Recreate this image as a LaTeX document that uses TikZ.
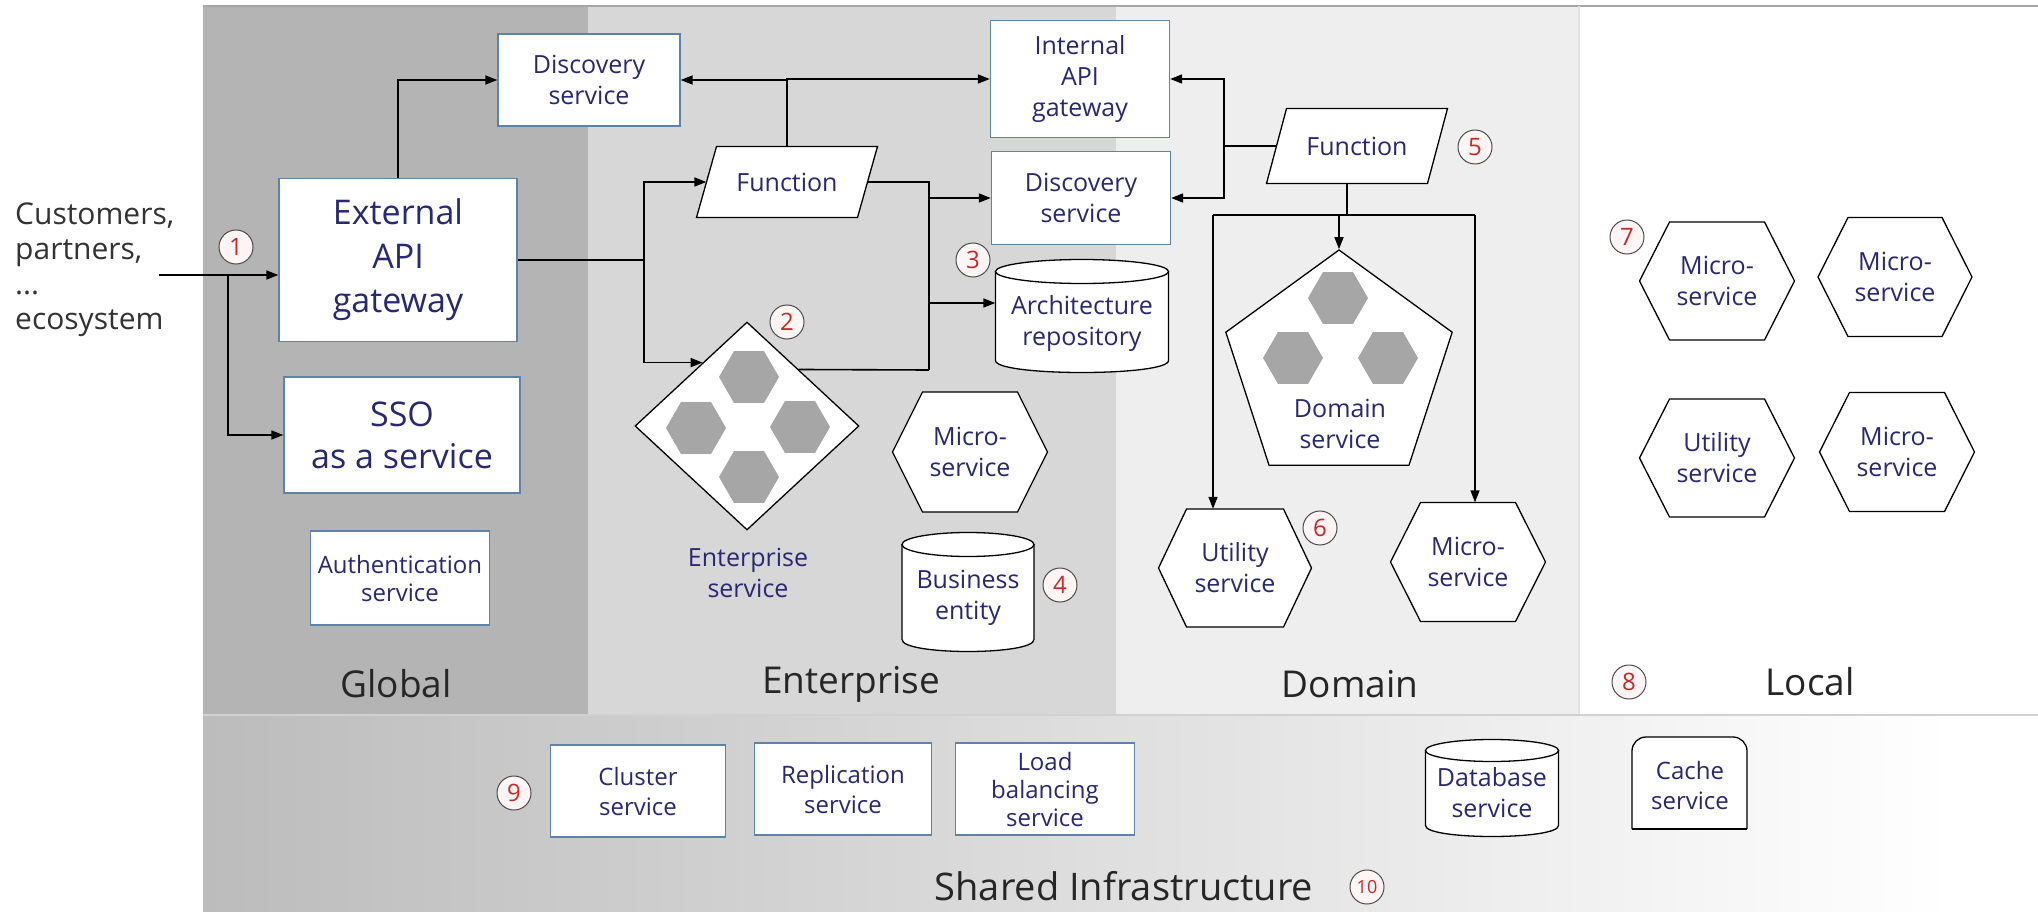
\documentclass[tikz,border=0pt]{standalone}
\usepackage{fontspec}
\setmainfont{Open Sans}
\usetikzlibrary{shapes.geometric,arrows.meta,calc}
\definecolor{bluetxt}{RGB}{40,40,115}
\definecolor{rectblue}{RGB}{95,130,170}
\definecolor{globalbg}{RGB}{180,180,180}
\definecolor{entbg}{RGB}{215,215,215}
\definecolor{dombg}{RGB}{238,238,238}
\definecolor{bandleft}{RGB}{188,188,188}
\definecolor{hexgray}{RGB}{166,166,166}
\definecolor{numred}{RGB}{200,40,40}
\tikzset{
 conn/.style={line width=1.6pt, black},
 arr/.style={conn, -{Triangle[length=12pt,width=9pt]}},
 bluetext/.style={font=\fontsize{25}{31}\selectfont, text=bluetxt, align=center, inner sep=0pt},
 rectbox/.style={bluetext, draw=rectblue, fill=white, line width=1.3pt},
 bigbox/.style={rectbox, font=\fontsize{34}{44}\selectfont},
 shapeline/.style={draw=black, fill=white, line width=1.3pt},
 innerhex/.style={regular polygon, regular polygon sides=6, minimum size=60pt, inner sep=0pt, fill=hexgray},
 numc/.style={circle, draw=black!70, fill=red!4, line width=1pt, minimum size=34pt, inner sep=0pt, text=numred, font=\fontsize{24}{24}\selectfont},
 zonelabel/.style={font=\fontsize{37}{44}\selectfont, text=black!85, inner sep=0pt},
}
\newcommand{\mkhex}[7]{%
 \draw[shapeline] ({#2-#4/2},#3) -- ({#2-#4/2+#6},{#3-#5/2}) -- ({#2+#4/2-#6},{#3-#5/2}) -- ({#2+#4/2},#3) -- ({#2+#4/2-#6},{#3+#5/2}) -- ({#2-#4/2+#6},{#3+#5/2}) -- cycle;
 \node[bluetext, minimum width=#4pt, minimum height=#5pt] (#1) at (#2,#3) {#7};}
\newcommand{\mkpara}[7]{%
 \draw[shapeline] ({#2-#4/2+#6/2},{#3-#5/2}) -- ({#2+#4/2+#6/2},{#3-#5/2}) -- ({#2+#4/2-#6/2},{#3+#5/2}) -- ({#2-#4/2-#6/2},{#3+#5/2}) -- cycle;
 \node[bluetext, minimum width=#4pt, minimum height=#5pt] (#1) at (#2,#3) {#7};}
\newcommand{\mkcyl}[8]{%
 \draw[shapeline] ({#2-#4/2},{#3-#5/2+#6}) -- ({#2-#4/2},{#3+#5/2-#6}) .. controls ({#2-#4/2},{#3+#5/2+#6/3}) and ({#2+#4/2},{#3+#5/2+#6/3}) .. ({#2+#4/2},{#3+#5/2-#6}) -- ({#2+#4/2},{#3-#5/2+#6}) -- cycle;
 \draw[shapeline] (#2,{#3-#5/2+#6}) ellipse [x radius=#4/2, y radius=#6];
 \node[bluetext, minimum width=#4pt] (#1) at (#2,{#3+#7}) {#8};}
\begin{document}
\begin{tikzpicture}[x=1pt,y=-1pt]
\useasboundingbox (0,0) rectangle (2038,912);
\fill[white] (0,0) rectangle (2038,912);
% zones
\fill[globalbg] (203,6) rectangle (588,715);
\fill[entbg] (588,6) rectangle (1116,715);
\fill[dombg] (1116,6) rectangle (1579,715);
\shade[left color=bandleft, right color=white] (203,715) rectangle (1950,912);
\draw[black!35, line width=1.5pt] (203,6) -- (2038,6);
\draw[black!12, line width=1.2pt] (1579,6) -- (1579,715);
\draw[black!18, line width=1.5pt] (203,715) -- (2038,715);
% zone labels
\node[zonelabel] (lglobal) at (396,684) {Global};
\node[zonelabel] (lent) at (851,684) {Enterprise};
\node[zonelabel] (ldom) at (1350,684) {Domain};
\node[zonelabel] (lloc) at (1810,682) {Local};
\node[zonelabel, font=\fontsize{38}{44}\selectfont] (lshared) at (1124,886) {Shared Infrastructure};
% customers
\node[font=\fontsize{30}{35}\selectfont, text=black!80, align=left, anchor=north west, inner sep=0pt] (cust) at (15,203) {Customers,\\partners,\\...\\ecosystem};
% global
\node[bigbox, minimum width=238pt, minimum height=163pt] (ext) at (398,260) {External\\API\\gateway};
\node[bigbox, font=\fontsize{34}{42}\selectfont, minimum width=236pt, minimum height=116pt] (sso) at (402,435) {SSO\\as a service};
\node[rectbox, font=\fontsize{24}{28}\selectfont, minimum width=179pt, minimum height=94pt] (auth) at (400,578) {Authentication\\service};
\node[rectbox, minimum width=182pt, minimum height=92pt] (disc1) at (589,80) {Discovery\\service};
% enterprise
\node[rectbox, minimum width=179pt, minimum height=117pt] (intapi) at (1080,79) {Internal\\API\\gateway};
\node[rectbox, minimum width=179pt, minimum height=93pt] (disc2) at (1081,198) {Discovery\\service};
\mkpara{fn1}{787}{182}{161}{71}{20}{Function}
\mkcyl{arch}{1082}{316}{173}{113}{12}{8}{Architecture\\repository}
\node[diamond, minimum width=224pt, minimum height=208pt, inner sep=0pt, shapeline] (dia) at (747,426) {};
\node[innerhex] (eh1) at (749,377) {};
\node[innerhex] (eh2) at (696,428) {};
\node[innerhex] (eh3) at (800,427) {};
\node[innerhex] (eh4) at (749,477) {};
\node[bluetext] (entlbl) at (748,573) {Enterprise\\service};
\mkhex{micro1}{970}{452}{155}{120}{30}{Micro-\\service}
\mkcyl{bizent}{968}{592}{132}{119}{12}{6}{Business\\entity}
% domain
\mkpara{fn2}{1357}{146}{161}{75}{20}{Function}
\node[regular polygon, regular polygon sides=5, minimum size=238pt, inner sep=0pt, shapeline] (pent) at (1339,369) {};
\node[innerhex] (dh1) at (1338,298) {};
\node[innerhex] (dh2) at (1293,358) {};
\node[innerhex] (dh3) at (1388,358) {};
\node[bluetext] (domlbl) at (1340,424) {Domain\\service};
\mkhex{util2}{1235}{568}{153}{118}{28}{Utility\\service}
\mkhex{micro2}{1468}{562}{155}{119}{30}{Micro-\\service}
% local
\mkhex{microL1}{1717}{281}{155}{118}{30}{Micro-\\service}
\mkhex{microL2}{1895}{277}{154}{119}{30}{Micro-\\service}
\mkhex{utilL}{1717}{458}{155}{118}{30}{Utility\\service}
\mkhex{microL3}{1897}{452}{155}{119}{30}{Micro-\\service}
% shared infrastructure
\node[rectbox, font=\fontsize{24}{30}\selectfont, minimum width=175pt, minimum height=92pt] (cluster) at (638,791) {Cluster\\service};
\node[rectbox, font=\fontsize{24}{30}\selectfont, minimum width=177pt, minimum height=92pt] (repl) at (843,789) {Replication\\service};
\node[rectbox, font=\fontsize{24}{28}\selectfont, minimum width=179pt, minimum height=92pt] (lb) at (1045,789) {Load\\balancing\\service};
\mkcyl{dbsvc}{1492}{788}{133}{97}{11}{5}{Database\\service}
\filldraw[fill=white, draw=black, line width=1.3pt, rounded corners=14pt] (1632,829) -- (1632,737) -- (1747,737) -- (1747,829);
\draw[black, line width=1.3pt] (1632,829) -- (1747,829);
\node[bluetext, font=\fontsize{24}{30}\selectfont] (cache) at (1690,785) {Cache\\service};
% connectors
\coordinate (cin) at (159,275);
\coordinate (j1) at (228,275);
\draw[arr] (cin) -- (cin -| ext.west);
\draw[arr] (j1) |- (sso.west);
\draw[arr] (ext.north) |- (disc1.west);
\coordinate (j2) at (644,260);
\coordinate (dl) at ($(dia.west)!0.606!(dia.north)$);
\coordinate (dr) at ($(dia.north)!0.46!(dia.east)$);
\draw[conn] (ext.east) -- (j2);
\draw[arr] (j2) |- (fn1.west);
\draw[arr] (j2) |- (dl);
\draw[arr] (fn1.north) |- (disc1.east);
\draw[arr] (fn1.north) |- (intapi.west);
\coordinate (j3) at (929,370);
\coordinate (archin) at ($(arch.west)+(0,-21)$);
\draw[conn] (fn1.east) -| (j3);
\draw[conn] (j3) -- (dr);
\draw[arr] (j3 |- disc2.west) -- (disc2.west);
\draw[arr] (j3 |- archin) -- (archin);
\coordinate (j4) at (1224,146);
\draw[conn] (fn2.west) -- (j4);
\draw[arr] (j4) |- (intapi.east);
\draw[arr] (j4) |- (disc2.east);
\coordinate (fnb) at ($(fn2.south)+(-10,0)$);
\coordinate (busl) at (1213,215);
\coordinate (busr) at (1475,215);
\draw[conn] (fnb) -- (fnb |- busl);
\draw[conn] (busl) -- (busr);
\draw[arr] (busl) -- (busl |- util2.north);
\draw[arr] (busr) -- (busr |- micro2.north);
\draw[arr] (pent.north |- busl) -- (pent.north);
% numbered markers
\node[numc] (n1) at (236,247) {1};
\node[numc] (n2) at (787,322) {2};
\node[numc] (n3) at (973,260) {3};
\node[numc] (n4) at (1060,585) {4};
\node[numc] (n5) at (1475,147) {5};
\node[numc] (n6) at (1320,528) {6};
\node[numc] (n7) at (1627,237) {7};
\node[numc] (n8) at (1629,682) {8};
\node[numc] (n9) at (514,793) {9};
\node[numc, font=\fontsize{18}{18}\selectfont] (n10) at (1367,887) {10};
\end{tikzpicture}
\end{document}
